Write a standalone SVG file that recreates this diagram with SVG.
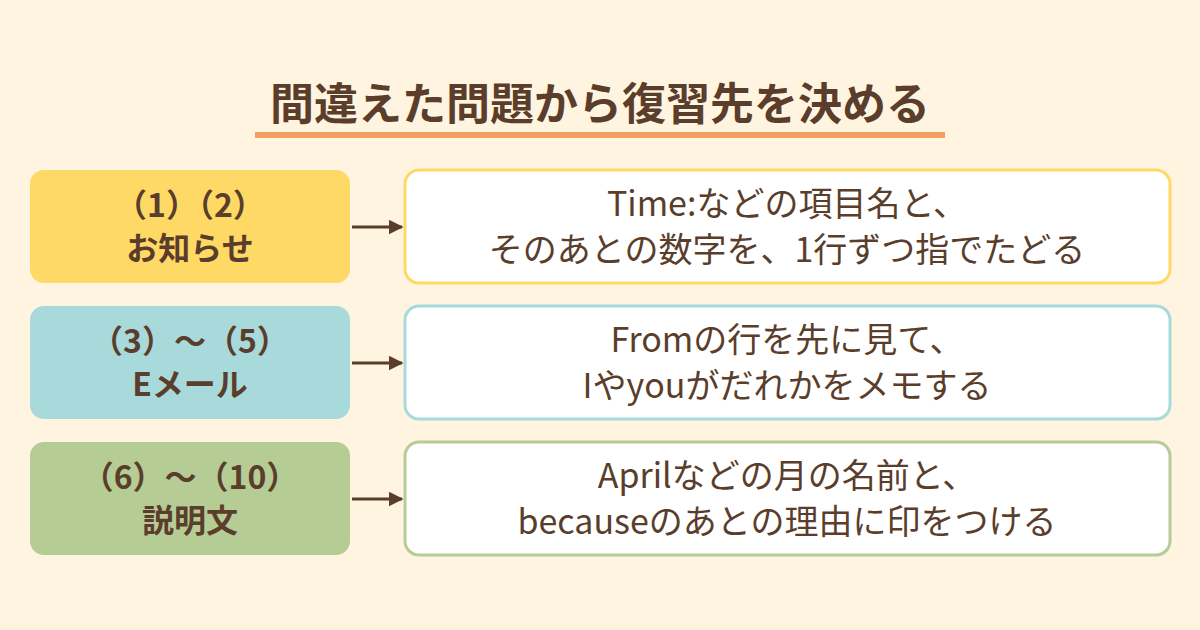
<svg xmlns="http://www.w3.org/2000/svg" width="1200" height="630" viewBox="0 0 1200 630">
<defs>
<style>
.t{font-family:"Noto Sans CJK JP","Noto Sans",sans-serif;fill:#5A3E2B;text-anchor:middle}
.l{font-size:32px;font-weight:bold}
.r{font-size:34px}
.w{fill:#fff;stroke-width:3}
</style>
<marker id="a" viewBox="0 0 10 10" refX="9" refY="5" markerWidth="5" markerHeight="5" orient="auto"><path d="M0,0L10,5L0,10z" fill="#5A3E2B"/></marker>
</defs>
<rect width="1200" height="630" fill="#FFF4E0"/>
<text class="t" x="600" y="120" font-size="44" font-weight="bold">間違えた問題から復習先を決める</text>
<rect x="255" y="132" width="690" height="6" fill="#F0A060"/>
<g id="n1"><rect x="30" y="170" width="320" height="113" rx="14" fill="#FFD966"/>
<text class="t l" x="190" y="217">（1）（2）</text><text class="t l" x="190" y="260">お知らせ</text></g>
<g id="n2"><rect x="30" y="306" width="320" height="113" rx="14" fill="#A8DADC"/>
<text class="t l" x="190" y="353">（3）～（5）</text><text class="t l" x="190" y="396">Eメール</text></g>
<g id="n3"><rect x="30" y="442" width="320" height="113" rx="14" fill="#B5CC95"/>
<text class="t l" x="190" y="489">（6）～（10）</text><text class="t l" x="190" y="532">説明文</text></g>
<g id="d1"><rect class="w" x="405" y="170" width="765" height="113" rx="14" stroke="#FFD966"/>
<text class="t r" x="787" y="216">Time:などの項目名と、</text><text class="t r" x="787" y="262">そのあとの数字を、1行ずつ指でたどる</text></g>
<g id="d2"><rect class="w" x="405" y="306" width="765" height="113" rx="14" stroke="#A8DADC"/>
<text class="t r" x="787" y="352">Fromの行を先に見て、</text><text class="t r" x="787" y="398">Iやyouがだれかをメモする</text></g>
<g id="d3"><rect class="w" x="405" y="442" width="765" height="113" rx="14" stroke="#B5CC95"/>
<text class="t r" x="787" y="488">Aprilなどの月の名前と、</text><text class="t r" x="787" y="534">becauseのあとの理由に印をつける</text></g>
<g id="connectors" stroke="#5A3E2B" stroke-width="3" marker-end="url(#a)">
<line x1="352" y1="227" x2="402" y2="227"/><line x1="352" y1="363" x2="402" y2="363"/><line x1="352" y1="499" x2="402" y2="499"/>
</g>
</svg>
